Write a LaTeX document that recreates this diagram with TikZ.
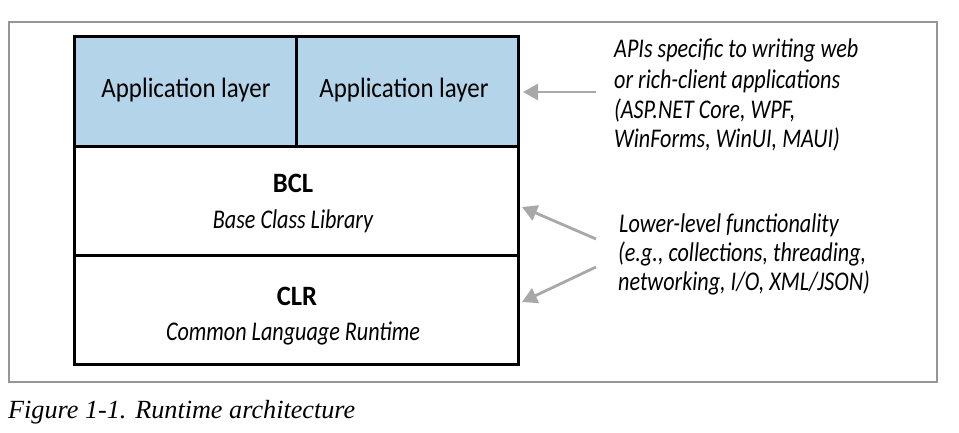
\documentclass[tikz,border=0pt]{standalone}
\usepackage{fontspec}
\usetikzlibrary{arrows.meta}
\newfontfamily\dfont[FakeStretch=0.89]{Carlito}
\newfontfamily\dbfont[FakeStretch=0.95]{Carlito}
\newfontfamily\difont[FakeStretch=0.82]{Carlito}
\newfontfamily\capfont{Liberation Serif}
\definecolor{appblue}{RGB}{179,212,233}
\definecolor{framegray}{RGB}{150,150,150}
\definecolor{arrowgray}{RGB}{168,168,168}
\tikzset{
  layerbox/.style={draw=black, line width=3pt, minimum width=#1, inner sep=0pt, outer sep=0pt},
  lbl/.style={anchor=base, inner sep=0pt, font=\dfont\fontsize{28}{28}\selectfont},
  lblb/.style={anchor=base, inner sep=0pt, font=\dbfont\bfseries\fontsize{28}{28}\selectfont},
  lbli/.style={anchor=base, inner sep=0pt, font=\difont\itshape\fontsize{27}{27}\selectfont},
  note/.style={anchor=base west, inner sep=0pt, font=\difont\itshape\fontsize{27}{27}\selectfont},
  garrow/.style={draw=arrowgray, line width=2.8pt, -{Triangle[length=15pt,width=16pt]}},
}
\begin{document}
\begin{tikzpicture}[x=1pt,y=-1pt]
\useasboundingbox (0,0) rectangle (959,433);
\draw[framegray, line width=1.8pt] (9,22) rectangle (937,382);
\node[layerbox=222pt, minimum height=110pt, fill=appblue] (app1) at (185,92) {};
\node[layerbox=222pt, minimum height=110pt, fill=appblue] (app2) at (407,92) {};
\node[layerbox=444pt, minimum height=108pt] (bcl) at (296,201) {};
\node[layerbox=444pt, minimum height=109pt] (clr) at (296,309.5) {};
\node[lbl] (t1) at (186,98) {Application layer};
\node[lbl] (t2) at (404,98) {Application layer};
\node[lblb] (bclt) at (293,193) {BCL};
\node[lbli] (bcls) at (293,228) {Base Class Library};
\node[lblb] (clrt) at (297,305) {CLR};
\node[lbli] (clrs) at (293,340) {Common Language Runtime};
\node[note] (n1) at (614,58) {APIs specific to writing web};
\node[note] (n2) at (614,88.5) {or rich-client applications};
\node[note] (n3) at (614,118.5) {(ASP.NET Core, WPF,};
\node[note] (n4) at (614,148) {WinForms, WinUI, MAUI)};
\node[note] (m1) at (619,232) {Lower-level functionality};
\node[note] (m2) at (618,261) {(e.g., collections, threading,};
\node[note] (m3) at (618,290) {networking, I/O, XML/JSON)};
\coordinate (a1s) at (596,92);
\coordinate (a2s) at (596,239);
\coordinate (a3s) at (596,267);
\coordinate (a2e) at (522,207);
\coordinate (a3e) at (522,302);
\draw[garrow] (a1s) -- ([xshift=5pt]app2.east);
\draw[garrow] (a2s) -- (a2e);
\draw[garrow] (a3s) -- (a3e);
\node[anchor=base west, inner sep=0pt, font=\capfont\itshape\fontsize{26.2}{26.2}\selectfont] (cap) at (8,418) {Figure 1-1. Runtime architecture};
\end{tikzpicture}
\end{document}
